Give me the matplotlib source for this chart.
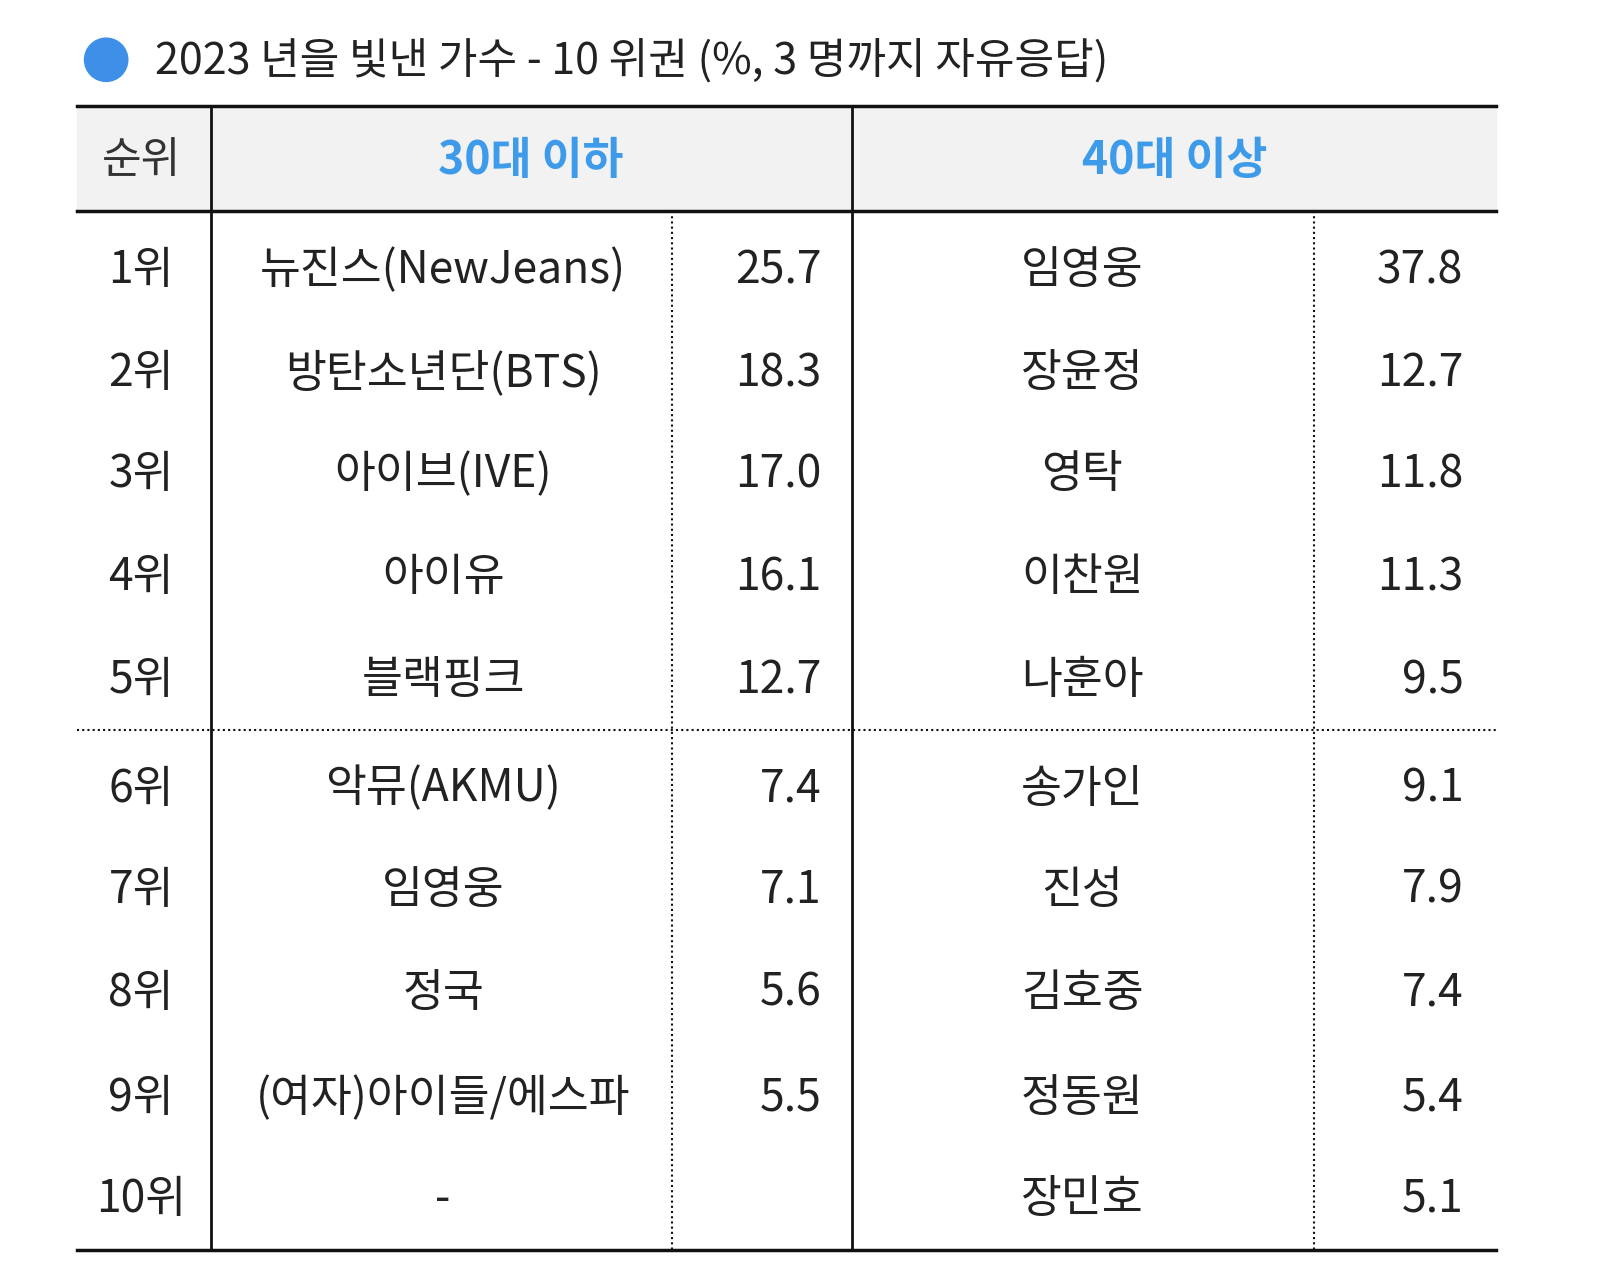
import matplotlib
matplotlib.use('agg')
import matplotlib.pyplot as plt
from matplotlib.patches import Rectangle, Circle

plt.rcParams['font.family'] = ['Noto Sans CJK KR', 'DejaVu Sans']

title = '2023 년을 빛낸 가수 - 10 위권 (%, 3 명까지 자유응답)'
ranks = ['1위', '2위', '3위', '4위', '5위', '6위', '7위', '8위', '9위', '10위']
young_names = ['뉴진스(NewJeans)', '방탄소년단(BTS)', '아이브(IVE)', '아이유', '블랙핑크',
               '악뮤(AKMU)', '임영웅', '정국', '(여자)아이들/에스파', '-']
young_vals = ['25.7', '18.3', '17.0', '16.1', '12.7', '7.4', '7.1', '5.6', '5.5', '']
old_names = ['임영웅', '장윤정', '영탁', '이찬원', '나훈아', '송가인', '진성', '김호중', '정동원', '장민호']
old_vals = ['37.8', '12.7', '11.8', '11.3', '9.5', '9.1', '7.9', '7.4', '5.4', '5.1']

fig = plt.figure(figsize=(16.16, 12.72), dpi=100)
ax = fig.add_axes([0, 0, 1, 1])
ax.set_xlim(0, 1568)
ax.set_ylim(1234, 0)
ax.axis('off')

txt = '#222222'
blue = '#3d9be9'

# title
ax.add_patch(Circle((103, 58), 21, color='#3d8fe8'))
ax.text(150, 60, title, fontsize=31, va='center', ha='left', color=txt)

# header band
ax.add_patch(Rectangle((75, 103), 1377, 102, color='#f2f2f2', zorder=0))
ax.text(137, 156, '순위', fontsize=31, ha='center', va='center', color='#333333')
ax.text(515, 156, '30대 이하', fontsize=32, ha='center', va='center', color=blue, fontweight='bold')
ax.text(1140, 156, '40대 이상', fontsize=32, ha='center', va='center', color=blue, fontweight='bold')

# lines
for y in (103, 205, 1213):
    ax.plot([75, 1452], [y, y], color='#111111', lw=2.5)
for x in (205, 827):
    ax.plot([x, x], [103, 1213], color='#111111', lw=2)
for x in (652, 1275):
    ax.plot([x, x], [205, 1213], color='#111111', lw=1.5, ls=(0, (1, 1.5)))
ax.plot([75, 1452], [708, 708], color='#111111', lw=1.5, ls=(0, (1, 1.5)))

row_y = [262, 362, 460, 560, 660, 765, 863, 963, 1065, 1163]
fs = 32
for i, y in enumerate(row_y):
    ax.text(137, y, ranks[i], fontsize=fs, ha='center', va='center', color=txt)
    ax.text(430, y, young_names[i], fontsize=fs, ha='center', va='center', color=txt)
    ax.text(797, y, young_vals[i], fontsize=fs, ha='right', va='center', color=txt)
    ax.text(1050, y, old_names[i], fontsize=fs, ha='center', va='center', color=txt)
    ax.text(1420, y, old_vals[i], fontsize=fs, ha='right', va='center', color=txt)

fig.savefig('out.png', dpi=100, facecolor='white')
